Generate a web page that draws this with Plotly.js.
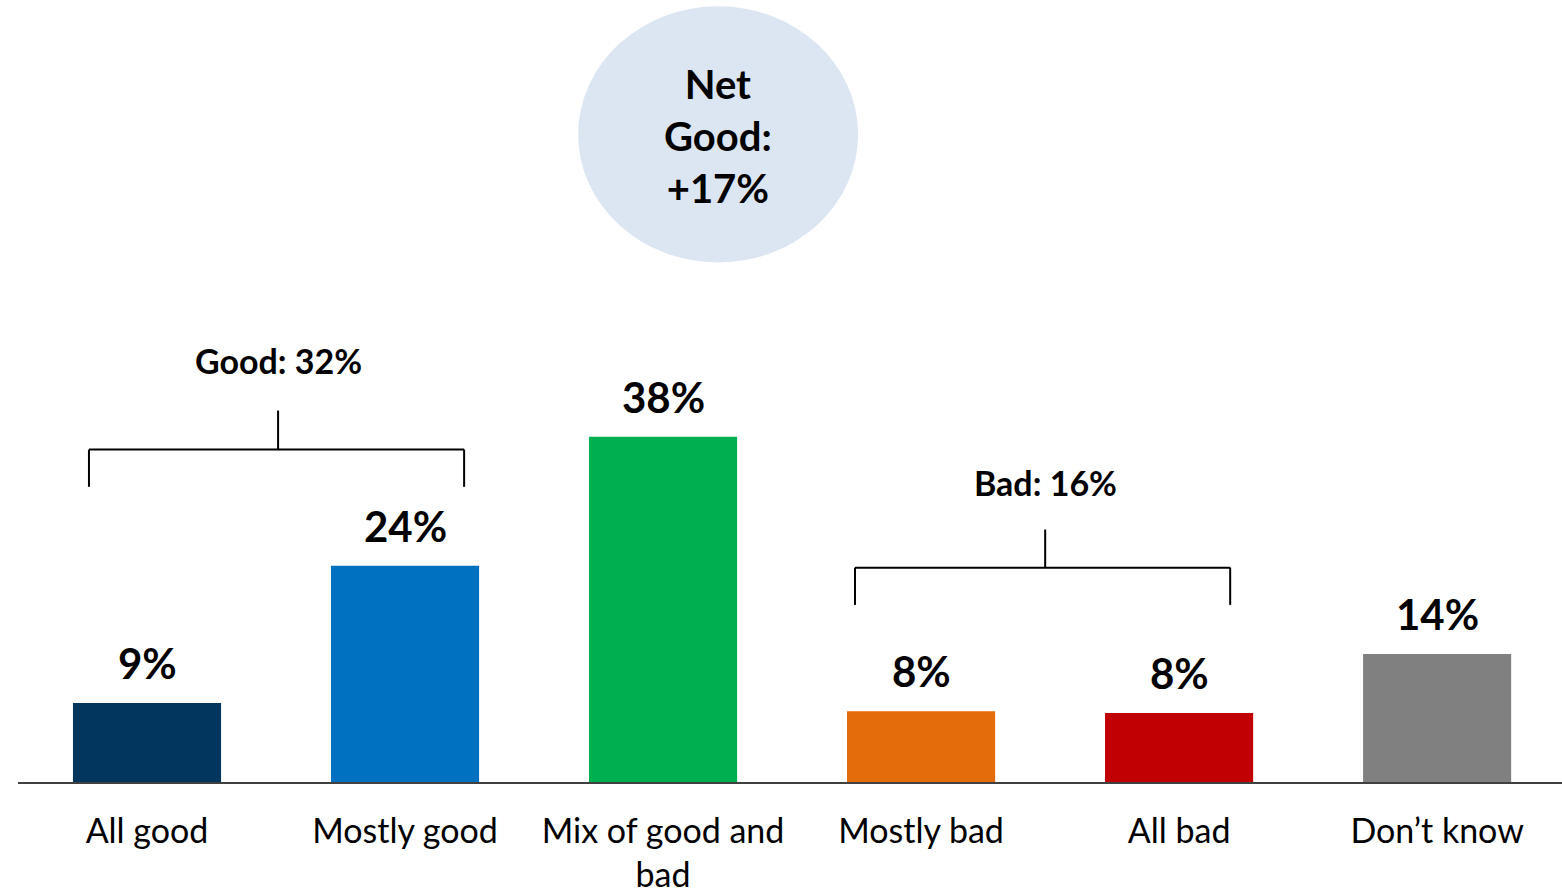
<!DOCTYPE html>
<html>
<head>
<meta charset="utf-8">
<script src="https://cdn.plot.ly/plotly-3.0.1.min.js"></script>
<style>html,body{margin:0;padding:0;background:#fff;}#chart{width:1562px;height:895px;}</style>
</head>
<body>
<div id="chart"></div>
<script>
const categories = ["All good", "Mostly good", "Mix of good and<br>bad", "Mostly bad", "All bad", "Don’t know"];
const values = [8.7, 23.8, 38.0, 7.8, 7.6, 14.1];
const labels = ["9%", "24%", "38%", "8%", "8%", "14%"];
const colors = ["#03365E", "#0070C0", "#00B050", "#E46C0A", "#C00000", "#808080"];
const groupLabels = ["Good: 32%", "Bad: 16%"];
const netLabel = "Net<br>Good:<br>+17%";

const FONT = "Lato, 'Open Sans', sans-serif";

const trace = {
  type: "bar",
  x: categories.map((c, i) => i),
  y: values,
  marker: {color: colors},
  hoverinfo: "skip",
  showlegend: false
};

const annotations = values.map((v, i) => ({
  x: i, y: v, xref: "x", yref: "y",
  text: "<b>" + labels[i] + "</b>",
  showarrow: false, yanchor: "bottom", yshift: 13,
  font: {family: FONT, size: 42, color: "#000"}
}));

annotations.push({
  x: 0.508, y: 46.4, xref: "x", yref: "y", text: "<b>" + groupLabels[0] + "</b>",
  showarrow: false, font: {family: FONT, size: 34, color: "#000"}
});
annotations.push({
  x: 3.481, y: 33.0, xref: "x", yref: "y", text: "<b>" + groupLabels[1] + "</b>",
  showarrow: false, font: {family: FONT, size: 34, color: "#000"}
});
annotations.push({
  x: 2.2135, y: 71.1, xref: "x", yref: "y", text: "<b>" + netLabel + "</b>",
  showarrow: false, font: {family: FONT, size: 40, color: "#000"}
});

const line = {color: "#000", width: 2};
const shapes = [
  {type: "circle", xref: "x", yref: "y", x0: 1.671, x1: 2.756, y0: 57.2, y1: 85.4,
   fillcolor: "#DCE6F2", line: {width: 0}, layer: "below"},
  // Good bracket
  {type: "line", xref: "x", yref: "y", x0: -0.225, x1: 1.229, y0: 36.6, y1: 36.6, line},
  {type: "line", xref: "x", yref: "y", x0: -0.225, x1: -0.225, y0: 36.6, y1: 32.5, line},
  {type: "line", xref: "x", yref: "y", x0: 1.229, x1: 1.229, y0: 36.6, y1: 32.5, line},
  {type: "line", xref: "x", yref: "y", x0: 0.508, x1: 0.508, y0: 36.6, y1: 40.9, line},
  // Bad bracket
  {type: "line", xref: "x", yref: "y", x0: 2.744, x1: 4.198, y0: 23.6, y1: 23.6, line},
  {type: "line", xref: "x", yref: "y", x0: 2.744, x1: 2.744, y0: 23.6, y1: 19.5, line},
  {type: "line", xref: "x", yref: "y", x0: 4.198, x1: 4.198, y0: 23.6, y1: 19.5, line},
  {type: "line", xref: "x", yref: "y", x0: 3.481, x1: 3.481, y0: 23.6, y1: 27.8, line}
];

const layout = {
  width: 1562, height: 895,
  margin: {l: 18, r: 0, t: 0, b: 113},
  paper_bgcolor: "#fff", plot_bgcolor: "#fff",
  bargap: 0.426,
  xaxis: {
    range: [-0.5, 5.484],
    tickmode: "array", tickvals: categories.map((c, i) => i), ticktext: categories,
    showline: true, linecolor: "#404040", linewidth: 2,
    showgrid: false, zeroline: false, ticks: "",
    ticklabelstandoff: 18,
    tickfont: {family: FONT, size: 34, color: "#000"}
  },
  yaxis: {
    range: [0, 86.1], visible: false, showgrid: false, zeroline: false
  },
  annotations, shapes
};

Plotly.newPlot("chart", [trace], layout, {displayModeBar: false, staticPlot: true});
</script>
</body>
</html>
